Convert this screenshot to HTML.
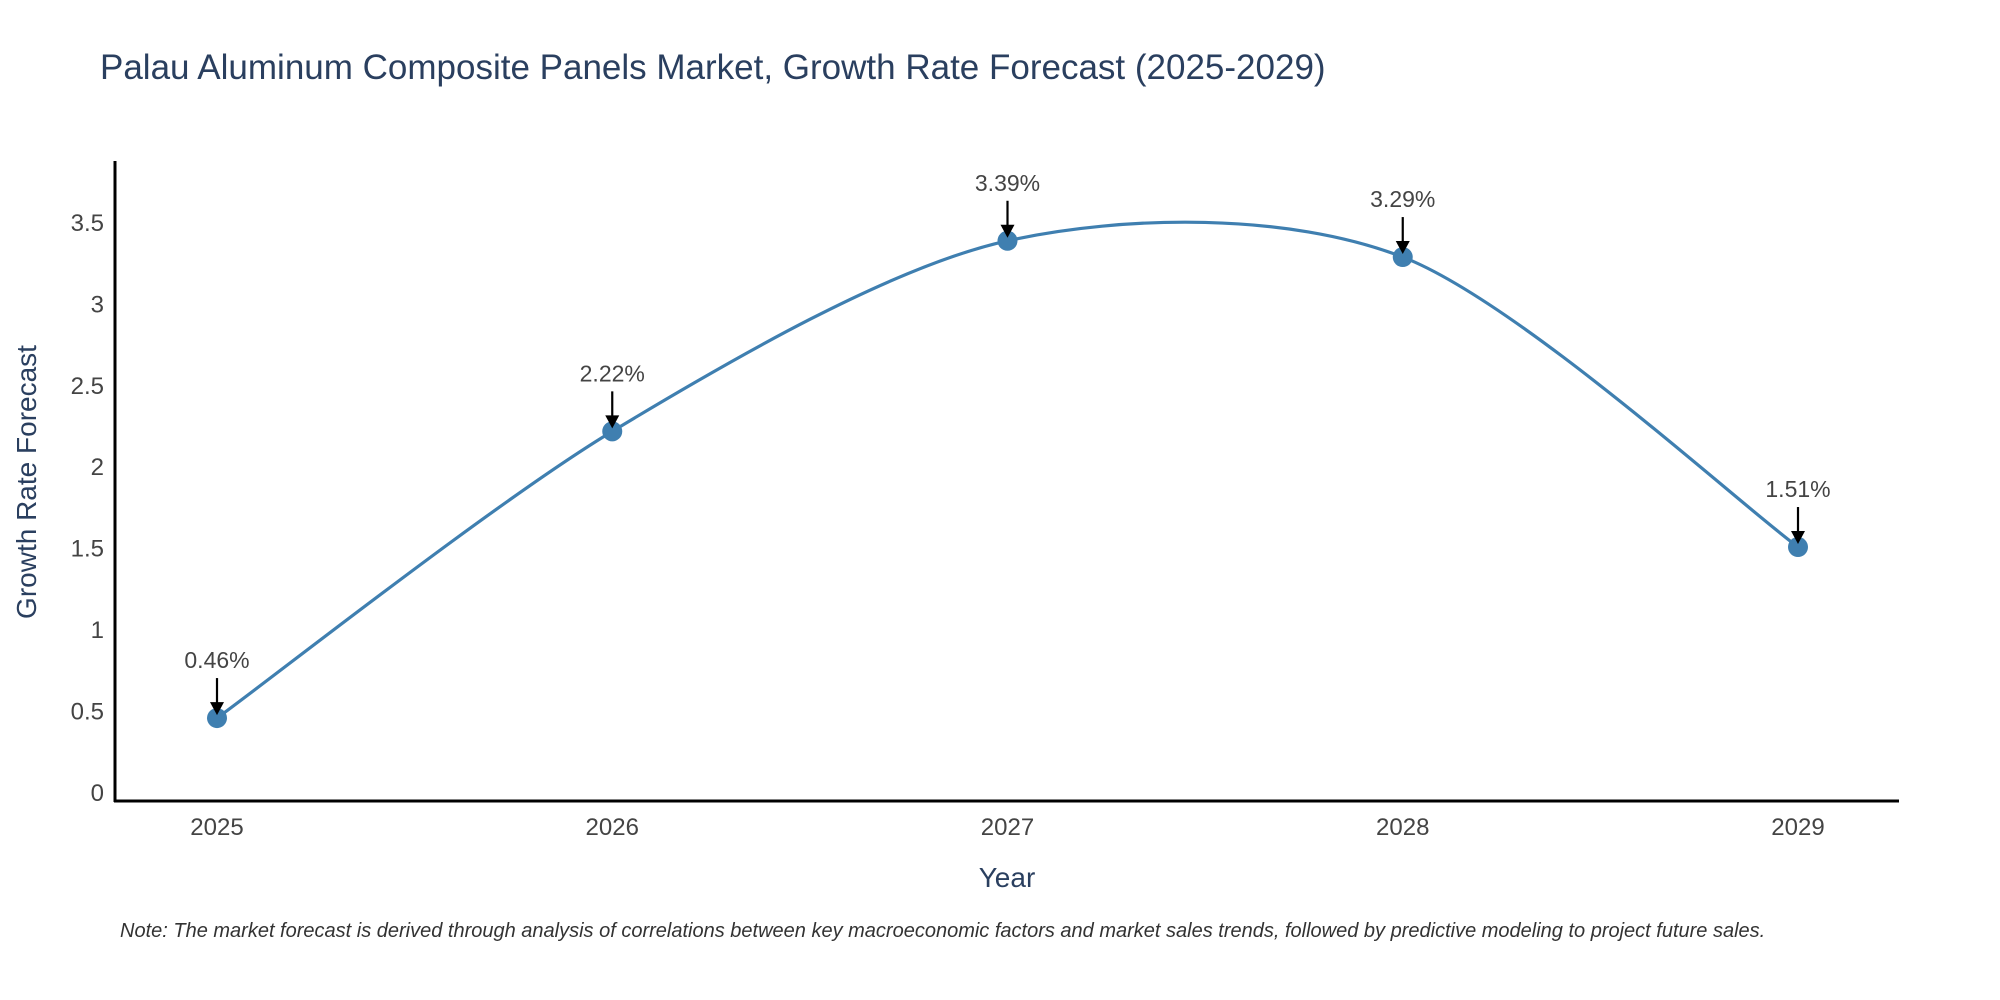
<!DOCTYPE html>
<html><head><meta charset="utf-8"><style>
html,body{margin:0;padding:0;background:#fff;}
svg{display:block;font-family:"Liberation Sans",sans-serif;}
</style></head><body>
<svg id="chart" width="2000" height="1000" viewBox="0 0 2000 1000">
<text x="100" y="79" font-size="35" fill="#2a3f5f">Palau Aluminum Composite Panels Market, Growth Rate Forecast (2025-2029)</text>
<g id="yticks"></g>
<g id="xticks"></g>
<path id="line" fill="none" stroke="#3f7fb0" stroke-width="3.2"></path>
<g id="marks"></g>
<line x1="115" y1="161" x2="115" y2="802" stroke="#000" stroke-width="3"/>
<line x1="114" y1="801" x2="1899" y2="801" stroke="#000" stroke-width="3"/>
<text x="1007" y="887" font-size="28" fill="#2a3f5f" text-anchor="middle">Year</text>
<text transform="translate(36,482) rotate(-90)" font-size="28" fill="#2a3f5f" text-anchor="middle">Growth Rate Forecast</text>
<text x="120" y="937" font-size="20" font-style="italic" fill="#333">Note: The market forecast is derived through analysis of correlations between key macroeconomic factors and market sales trends, followed by predictive modeling to project future sales.</text>
</svg>
<script>
const categories = ["2025","2026","2027","2028","2029"];
const values = [0.46, 2.22, 3.39, 3.29, 1.51];
const valueLabels = ["0.46%","2.22%","3.39%","3.29%","1.51%"];
const yTicks = [0,0.5,1,1.5,2,2.5,3,3.5];
const yTickLabels = ["0","0.5","1","1.5","2","2.5","3","3.5"];

const NS="http://www.w3.org/2000/svg";
const xOf = i => 217 + i*395.25;
const yOf = v => 793 - v*162.9;
function mk(tag, attrs, parent){const e=document.createElementNS(NS,tag);for(const k in attrs)e.setAttribute(k,attrs[k]);parent.appendChild(e);return e;}

const yg=document.getElementById('yticks');
yTicks.forEach((t,i)=>{
  const e=mk('text',{x:104,y:yOf(t)+8,'font-size':24,fill:'#444','text-anchor':'end'},yg);
  
  
  e.textContent=yTickLabels[i];
});
const xg=document.getElementById('xticks');
categories.forEach((c,i)=>{
  const e=mk('text',{x:xOf(i),y:835,'font-size':24,fill:'#444','text-anchor':'middle'},xg);
  
  
  e.textContent=c;
});

const pts=values.map((v,i)=>[xOf(i),yOf(v)]);
const k=1/6.8;
let d=`M${pts[0][0]},${pts[0][1]}`;
for(let i=0;i<pts.length-1;i++){
  const p0=pts[Math.max(0,i-1)],p1=pts[i],p2=pts[i+1],p3=pts[Math.min(pts.length-1,i+2)];
  const c1=[p1[0]+(p2[0]-p0[0])*k,p1[1]+(p2[1]-p0[1])*k];
  const c2=[p2[0]-(p3[0]-p1[0])*k,p2[1]-(p3[1]-p1[1])*k];
  d+=` C${c1[0]},${c1[1]} ${c2[0]},${c2[1]} ${p2[0]},${p2[1]}`;
}
document.getElementById('line').setAttribute('d',d);

const mg=document.getElementById('marks');
values.forEach((v,i)=>{
  const x=xOf(i),y=yOf(v);
  const c=mk('circle',{cx:x,cy:y,r:10,fill:'#3f7fb0'},mg);
  
  
  const a=mk('line',{x1:x,y1:y-40,x2:x,y2:y-14,stroke:'#000','stroke-width':2.2},mg);
  
  
  const h=mk('polygon',{points:`${x-7},${y-16} ${x+7},${y-16} ${x},${y-3}`,fill:'#000'},mg);
  
  
  const t=mk('text',{x:x,y:y-50,'font-size':23,fill:'#444','text-anchor':'middle'},mg);
  
  
  t.textContent=valueLabels[i];
});
</script>
</body></html>
